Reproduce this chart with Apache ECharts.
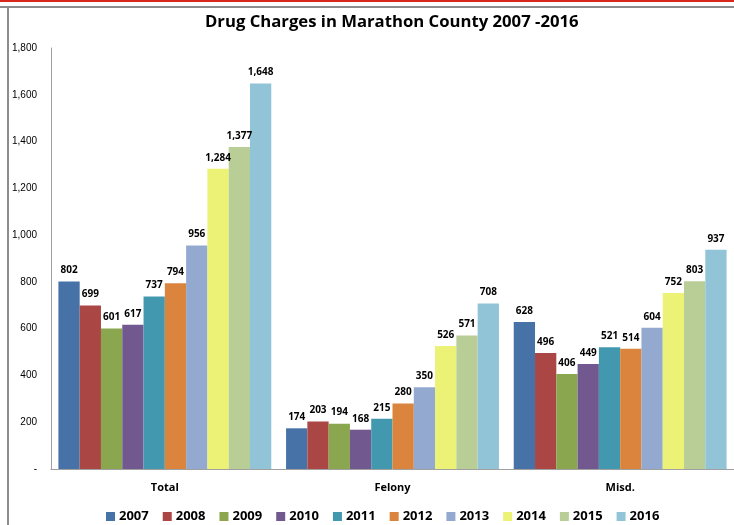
<!DOCTYPE html>
<html><head><meta charset="utf-8">
<script src="https://cdn.jsdelivr.net/npm/echarts@6/dist/echarts.min.js"></script>
<style>html,body{margin:0;padding:0;background:#fff}#c{width:734px;height:525px}</style>
</head><body><div id="c"></div>
<script>
const categories = ['Total', 'Felony', 'Misd.'];
const years = ['2007','2008','2009','2010','2011','2012','2013','2014','2015','2016'];
const v2007 = [802, 174, 628];
const v2008 = [699, 203, 496];
const v2009 = [601, 194, 406];
const v2010 = [617, 168, 449];
const v2011 = [737, 215, 521];
const v2012 = [794, 280, 514];
const v2013 = [956, 350, 604];
const v2014 = [1284, 526, 752];
const v2015 = [1377, 571, 803];
const v2016 = [1648, 708, 937];
const allValues = [v2007, v2008, v2009, v2010, v2011, v2012, v2013, v2014, v2015, v2016];
const colors = ['#4672A8','#AA4744','#8AA64F','#71598F','#4298AF','#DB843D','#93A9CF','#EBF275','#B9CD96','#92C4D7'];

const fmt = n => n === 0 ? '-' : n.toLocaleString('en-US');
const font = 'Open Sans, Liberation Sans, sans-serif';

const chart = echarts.init(document.getElementById('c'));
chart.setOption({
  animation: false,
  color: colors,
  title: {
    text: 'Drug Charges in Marathon County 2007 -2016',
    left: 200, top: 9,
    textStyle: { fontFamily: font, fontWeight: 'bold', fontSize: 16.7, color: '#000' }
  },
  graphic: [
    { type: 'rect', shape: { x: 0, y: 0, width: 734, height: 2 }, style: { fill: '#D9261C' } },
    { type: 'rect', shape: { x: 0, y: 6, width: 734, height: 2 }, style: { fill: '#8C8C8C' } },
    { type: 'rect', shape: { x: 7, y: 6, width: 2, height: 519 }, style: { fill: '#8C8C8C' } }
  ],
  legend: {
    data: years,
    top: 505, left: 101,
    itemWidth: 9, itemHeight: 9, itemGap: 14,
    icon: 'rect',
    textStyle: { fontFamily: font, fontWeight: 'bold', fontSize: 13, color: '#000', padding: [0,0,0,-1] }
  },
  grid: { left: 51, top: 48, width: 687, height: 421 },
  xAxis: {
    type: 'category', data: categories,
    axisLine: { lineStyle: { color: '#A0A0A0', width: 1 } },
    axisTick: { show: false },
    axisLabel: { fontFamily: font, fontWeight: 'bold', fontSize: 11, color: '#000', margin: 13 }
  },
  yAxis: {
    type: 'value', min: 0, max: 1800, interval: 200,
    axisLine: { show: true, lineStyle: { color: '#A0A0A0', width: 1 } },
    axisTick: { show: false },
    splitLine: { show: false },
    axisLabel: { fontFamily: 'Liberation Sans, sans-serif', fontSize: 10, color: '#000', margin: 14, formatter: fmt }
  },
  series: years.map((y, i) => ({
    name: y, type: 'bar', data: allValues[i],
    barGap: '0%', barCategoryGap: '6.5%',
    label: {
      show: true, position: 'top', distance: 6,
      fontFamily: font, fontWeight: 'bold', fontSize: 10, color: '#000',
      formatter: p => fmt(p.value)
    }
  }))
});
</script></body></html>
